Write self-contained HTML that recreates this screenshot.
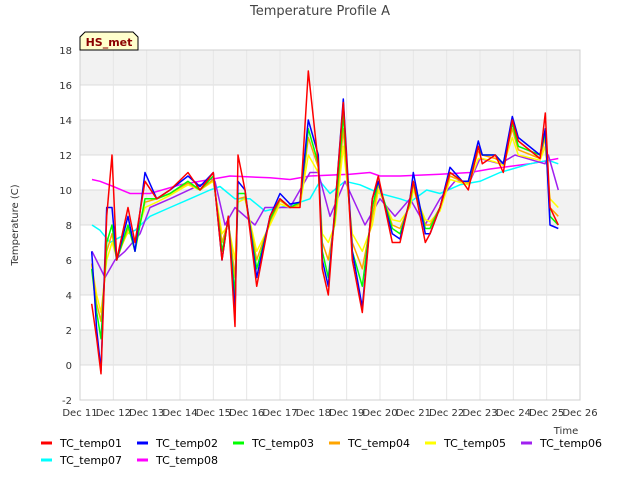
<!DOCTYPE html>
<html><head><meta charset="utf-8"><style>
body{margin:0;background:#fff;font-family:"Liberation Sans","DejaVu Sans",sans-serif}
svg text{font-family:"DejaVu Sans","Liberation Sans",sans-serif}
</style></head><body>
<svg id="c" width="640" height="480" xmlns="http://www.w3.org/2000/svg">
<text x="320" y="15" text-anchor="middle" font-size="13" fill="#444">Temperature Profile A</text>
<text x="18" y="225" text-anchor="middle" font-size="10" fill="#333" transform="rotate(-90 18 225)">Temperature (C)</text>
<text x="566" y="434" text-anchor="middle" font-size="10" fill="#333">Time</text>
<g id="grid"></g><g id="series"></g><g id="axes"></g><g id="legend"></g>
<g>
<path d="M80,50 L80,37 L85,32 L133,32 L138,37 L138,50 Z" fill="#ffffcc" stroke="#000" stroke-width="1"/>
<text x="109" y="46" text-anchor="middle" font-size="11" font-weight="bold" fill="#8b0000">HS_met</text>
</g>
</svg>
<script>
const yTicks=[-2,0,2,4,6,8,10,12,14,16,18];
const xTickLabels=["Dec 11","Dec 12","Dec 13","Dec 14","Dec 15","Dec 16","Dec 17","Dec 18","Dec 19","Dec 20","Dec 21","Dec 22","Dec 23","Dec 24","Dec 25","Dec 26"];
const seriesNames=["TC_temp01","TC_temp02","TC_temp03","TC_temp04","TC_temp05","TC_temp06","TC_temp07","TC_temp08"];
const seriesColors=["#ff0000","#0000ff","#00ff00","#ffa500","#ffff00","#a020f0","#00ffff","#ff00ff"];
const T=[0.35,0.5,0.63,0.8,0.96,1.1,1.44,1.65,1.95,2.3,2.7,3.24,3.6,4.0,4.26,4.45,4.65,4.74,4.95,5.3,5.7,6.0,6.3,6.6,6.85,7.15,7.27,7.45,7.65,7.9,8.17,8.47,8.77,8.95,9.37,9.6,9.9,10.0,10.36,10.5,10.8,11.1,11.47,11.65,11.95,12.07,12.46,12.7,12.97,13.15,13.8,13.96,14.1,14.35];
const tc01=[3.5,1.5,-0.5,8.5,12,6,9,7,10.5,9.5,10,11,10,11,6,8.5,2.2,12,10,4.5,8.5,9.5,9,9,16.8,11.5,5.5,4,9,15,6,3,9.5,10.8,7,7,9.5,10.5,7,7.5,9,11,10.5,10,12.5,11.5,12,11,14,12.8,11.8,14.4,9,8];
const tc02=[6.5,2,-0.3,9,9,6,8.5,6.5,11,9.5,10,10.8,10.2,11,6,8.5,3,10.5,10,5,8.5,9.8,9.2,9.3,14,12,6,4.5,9,15.2,6.5,3.3,9.5,10.5,7.5,7.2,9.5,11,7.5,7.5,9,11.3,10.5,10.5,12.8,12,12,11.5,14.2,13,12,13.5,8,7.8];
const tc03=[5.5,3,1.5,7,8,6,8,6.5,9.5,9.5,9.8,10.5,10,10.8,6.5,8.3,4,9.8,9.8,5.5,8.3,9.5,9,9.3,13.5,11.5,6.5,5,8.5,14.3,6.5,4.5,9,10.5,7.8,7.5,9.3,10.5,7.8,7.8,9,11,10.5,10.5,12.5,12,12,11.5,13.8,12.5,12,13.3,8.5,8];
const tc04=[5.8,3.5,2.5,6.5,7.5,6,7.8,7,9.3,9.5,9.8,10.4,10,10.6,7,8.2,5,9.5,9.6,6,8.2,9.4,9,9.2,13,11.3,7,6,8.3,13.5,7,5.5,8.5,10.3,8,7.8,9.2,10.3,8,8,9,10.8,10.5,10.4,12.2,12,11.8,11.5,13.5,12.3,11.8,13,9,8.5];
const tc05=[5.7,4,3,6,7,6.2,7.6,7.2,9,9.3,9.7,10.3,10,10.5,7.5,8,6,9.3,9.5,6.5,8,9.2,9,9.1,12,11,7.5,7,8,12.5,7.5,6.5,8,10,8.3,8.2,9,10,8.3,8.2,8.8,10.6,10.4,10.3,11.8,11.8,11.6,11.4,13,12,11.7,12.5,9.5,9];
const T6=[0.36,0.75,1.05,1.35,1.8,2.1,2.7,3.6,4.05,4.35,4.65,5.25,5.55,6.3,6.9,7.15,7.5,7.95,8.55,9.0,9.45,9.9,10.35,10.8,11.25,11.7,12.0,12.6,13.05,13.95,14.05,14.35];
const tc06=[6.5,5,6,6.5,7.5,9,9.5,10.3,10.5,8,9,8,9,9,11,11,8.5,10.5,8,9.5,8.5,9.5,8,9.5,10.5,10.5,11.8,11.5,12,11.5,12,10];
const T7=[0.36,0.6,0.9,1.2,1.65,2.1,2.7,3.3,3.9,4.2,4.65,5.1,5.55,6.0,6.6,6.9,7.2,7.5,7.95,8.4,9.0,9.6,9.9,10.4,10.8,11.4,12.0,12.6,13.5,14.05,14.35];
const tc07=[8,7.7,7,7.3,7.7,8.5,9,9.5,10,10.2,9.5,9.5,8.8,9,9.3,9.5,10.5,9.8,10.5,10.3,9.8,9.5,9.3,10,9.8,10.3,10.5,11,11.5,11.7,11.5];
const T8=[0.36,0.6,1.0,1.5,2.1,3.0,3.6,4.5,5.7,6.3,6.9,8.1,8.7,9.0,9.6,10.8,11.7,12.3,13.5,14.35];
const tc08=[10.6,10.5,10.2,9.8,9.8,10.3,10.5,10.8,10.7,10.6,10.8,10.9,11.0,10.8,10.8,10.9,11.0,11.2,11.5,11.8];
const seriesX=[T,T,T,T,T,T6,T7,T8];
const seriesY=[tc01,tc02,tc03,tc04,tc05,tc06,tc07,tc08];
const NS="http://www.w3.org/2000/svg";
const L=80,R=580,TOP=50,BOT=400;
const xs=d=>L+d*(R-L)/15;
const ys=v=>BOT-(v+2)*(BOT-TOP)/20;
function mk(t,a,p){const e=document.createElementNS(NS,t);for(const k in a)e.setAttribute(k,a[k]);p.appendChild(e);return e;}
const grid=document.getElementById('grid'),axes=document.getElementById('axes'),ser=document.getElementById('series'),leg=document.getElementById('legend');
for(let v=0;v<18;v+=4){const b=mk('rect',{x:L,y:ys(v+2),width:R-L,height:ys(v)-ys(v+2),fill:'#f2f2f2'},grid);

}
for(let v=16;v<18;v++){}
const topBand=mk('rect',{x:L,y:ys(18),width:R-L,height:ys(16)-ys(18),fill:'#f2f2f2'},grid);


yTicks.forEach(v=>{const g=mk('line',{x1:L,x2:R,y1:ys(v),y2:ys(v),stroke:'#dcdcdc','stroke-width':1},grid);


const t=mk('text',{x:L-8,y:ys(v)+4,'text-anchor':'end','font-size':10,fill:'#333'},axes);t.textContent=v;

});
xTickLabels.forEach((s,i)=>{const g=mk('line',{x1:xs(i),x2:xs(i),y1:TOP,y2:BOT,stroke:'#e6e6e6','stroke-width':1},grid);


const t=mk('text',{x:xs(i),y:416,'text-anchor':'middle','font-size':10,fill:'#333'},axes);t.textContent=s;

});
const fr=mk('rect',{x:L,y:TOP,width:R-L,height:BOT-TOP,fill:'none',stroke:'#d0d0d0'},axes);


const order=[7,6,5,4,3,2,1,0];
order.forEach(i=>{const pts=seriesX[i].map((d,j)=>xs(d).toFixed(1)+','+ys(seriesY[i][j]).toFixed(1)).join(' ');
const p=mk('polyline',{points:pts,fill:'none',stroke:seriesColors[i],'stroke-width':1.5,'stroke-linejoin':'round'},ser);

});
seriesNames.forEach((n,i)=>{const col=i%6,row=Math.floor(i/6);const x=41+col*96,y=443+row*17;
const g=mk('g',{},leg);


mk('rect',{x:x,y:y-1.5,width:11,height:3,fill:seriesColors[i]},g);
const t=mk('text',{x:x+19,y:y+4,'font-size':11,fill:'#000'},g);t.textContent=n;});
</script>
</body></html>
